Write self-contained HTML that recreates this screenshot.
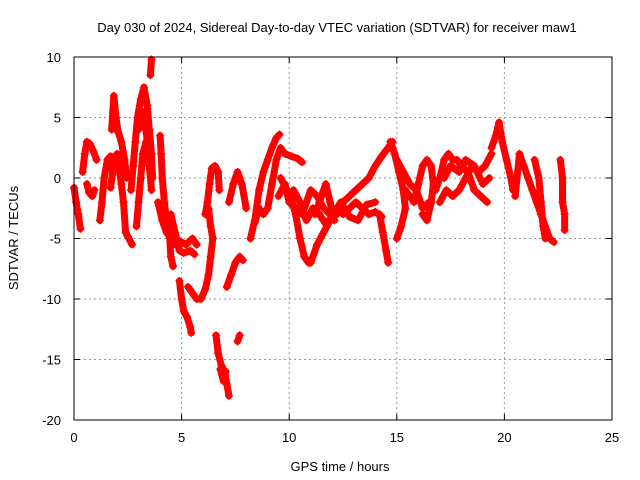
<!DOCTYPE html>
<html><head><meta charset="utf-8"><style>
body{margin:0;background:#fff}
svg{display:block;font-family:"Liberation Sans",Arial,sans-serif}
</style></head><body>
<svg id="chart" width="640" height="480">
<text x="337" y="32" font-size="13" text-anchor="middle">Day 030 of 2024, Sidereal Day-to-day VTEC variation (SDTVAR) for receiver maw1</text>
<text x="340" y="471" font-size="13" text-anchor="middle">GPS time / hours</text>
<text x="18" y="238" font-size="13" text-anchor="middle" transform="rotate(-90 18 238)">SDTVAR / TECUs</text>
<g id="grid"></g>
<g id="marks"></g>
<rect x="74" y="57" width="538" height="363" fill="none" stroke="#000" stroke-width="1"/>
<g id="ticks"></g>
</svg>
<script>
const xTicks=[0,5,10,15,20,25];
const yTicks=[10,5,0,-5,-10,-15,-20];
const tracks=[
[[0,-0.8],[0.1,-2],[0.2,-3],[0.3,-4.2]],
[[0.4,0.5],[0.5,2],[0.6,3],[0.75,2.8],[0.9,2.2],[1.05,1.5]],
[[0.6,-0.5],[0.7,-1.2],[0.85,-1.5],[0.95,-1]],
[[1.2,-3.5],[1.3,-2],[1.4,0],[1.55,1.5],[1.7,1.8],[1.8,0.5],[1.7,-0.8]],
[[1.75,4],[1.85,6.8],[1.95,5],[2.05,3.8],[2.2,3],[2.35,1.5],[2.45,0]],
[[2.0,2],[2.2,-0.5],[2.3,-2],[2.4,-4.5],[2.55,-5],[2.7,-5.5]],
[[2.65,-1],[2.75,1],[2.85,3],[2.95,5],[3.1,6.5],[3.25,7.5],[3.4,6],[3.5,4],[3.6,2],[3.65,0]],
[[2.9,-4],[3.0,-2],[3.1,0],[3.2,2],[3.35,3],[3.5,1],[3.6,-1]],
[[3.0,4],[3.15,5.5],[3.3,4.5],[3.45,2.5]],
[[3.55,8.5],[3.6,9.8]],
[[4.0,3.5],[4.05,2],[4.1,0],[4.2,-2],[4.3,-3.5],[4.45,-5],[4.5,-6.5],[4.6,-7.3]],
[[3.9,-2],[4.1,-3.5],[4.3,-4.5],[4.5,-5],[4.7,-5.5],[4.9,-5.2],[5.2,-5.5],[5.5,-5],[5.7,-5.5]],
[[4.5,-3],[4.7,-4.5],[4.9,-6],[5.1,-6.2],[5.4,-6],[5.6,-6.3]],
[[4.9,-8.5],[5.0,-10],[5.1,-11],[5.25,-11.5],[5.4,-12.3],[5.45,-12.8]],
[[5.3,-9],[5.5,-9.5],[5.7,-10],[5.9,-10],[6.1,-9.2],[6.25,-8],[6.35,-6.5],[6.45,-5]],
[[6.1,-3],[6.2,-2],[6.3,-0.5],[6.4,0.8],[6.55,1],[6.7,0.5],[6.75,-1]],
[[6.25,-2.5],[6.35,-4],[6.45,-5]],
[[6.6,-13],[6.7,-14.5],[6.85,-15.5],[7.0,-16],[7.1,-17],[7.2,-18]],
[[6.8,-15.8],[6.95,-16.8],[7.05,-16]],
[[7.1,-9],[7.3,-8],[7.5,-7],[7.7,-6.5],[7.85,-6.8]],
[[7.2,-2],[7.4,-0.5],[7.6,0.5],[7.8,-0.5],[8.0,-2.5]],
[[7.6,-13.5],[7.7,-13]],
[[8.2,-5],[8.4,-3.5],[8.6,-1],[8.8,0.5],[9.0,1.5],[9.2,2.5],[9.4,3.3],[9.55,3.6]],
[[8.4,-3.7],[8.6,-2.5],[8.8,-3],[9.0,-2.5],[9.2,-0.5],[9.4,1.5],[9.6,2.5],[9.8,2],[10.1,1.8],[10.4,1.6],[10.6,1.3]],
[[9.6,0],[9.9,-1],[10.1,-1.8],[10.3,-3],[10.5,-5],[10.7,-6.5],[10.9,-7]],
[[9.5,-1.5],[9.8,-0.5],[10.0,-2],[10.3,-2.5],[10.6,-3],[10.8,-2],[11.0,-1],[11.3,-1.5],[11.6,-2.5],[11.9,-3],[12.2,-2.5],[12.5,-3],[12.8,-2.5],[13.1,-2],[13.4,-2.5],[13.7,-3],[14.0,-2.8],[14.3,-3.2]],
[[10.2,-1],[10.5,-2],[10.8,-3.5],[11.1,-2.5],[11.4,-3],[11.7,-3.8],[12.0,-3.2],[12.4,-2],[12.8,-3.2],[13.2,-3.5],[13.6,-2.2],[14.0,-2]],
[[11.0,-7],[11.3,-5.5],[11.6,-4.5],[11.9,-3.5],[12.2,-3],[12.5,-2],[12.8,-1.5],[13.1,-1],[13.4,-0.5],[13.7,0],[14.0,1],[14.3,1.8],[14.6,2.5],[14.8,3]],
[[11.2,-3],[11.4,-2],[11.6,-1],[11.7,-0.5],[11.9,-2],[12.1,-3.5]],
[[14.2,-3],[14.35,-4.5],[14.5,-6],[14.6,-7]],
[[14.7,3],[14.9,2],[15.1,0.5],[15.3,-1],[15.4,-2.5],[15.2,-4],[15.0,-5]],
[[15.4,-1],[15.6,-1.5],[15.8,-2],[16.0,-0.5],[16.2,1],[16.4,1.5],[16.6,1],[16.7,-0.5],[16.6,-2],[16.4,-3.5],[16.2,-3]],
[[15.0,1.5],[15.3,0.5],[15.6,-0.5],[15.9,-1],[16.2,-2.5],[16.5,-2]],
[[16.8,-1],[17.0,0],[17.2,1.5],[17.4,2],[17.6,1.5],[17.8,1.5],[18.0,1],[18.3,0.5],[18.6,-1],[18.9,-1.5],[19.2,-2]],
[[17.0,-2],[17.3,-1],[17.6,-1.5],[17.9,-1],[18.2,0],[18.5,1],[18.8,0.5],[19.1,1],[19.4,2]],
[[17.2,0],[17.5,1],[17.9,0.5],[18.2,1.5],[18.6,1],[19.0,-0.5],[19.3,0]],
[[19.4,2.5],[19.6,3.5],[19.75,4.6],[19.9,3],[20.1,1.5],[20.3,0],[20.4,-1]],
[[20.5,-1.5],[20.7,2],[20.9,1],[21.1,0],[21.3,-1],[21.5,-2],[21.7,-3],[21.9,-4],[22.1,-5],[22.3,-5.3]],
[[21.4,1.5],[21.6,0],[21.7,-2],[21.8,-4],[21.9,-5]],
[[22.6,1.5],[22.7,0],[22.7,-2],[22.8,-3],[22.8,-4.3]]
];
const X0=74,X1=612,Y0=420,Y1=57,xmin=0,xmax=25,ymin=-20,ymax=10;
const sx=t=>X0+(t-xmin)/(xmax-xmin)*(X1-X0);
const sy=v=>Y0-(v-ymin)/(ymax-ymin)*(Y0-Y1);
const NS='http://www.w3.org/2000/svg';
function mk(tag,attrs,parent){const e=document.createElementNS(NS,tag);for(const k in attrs)e.setAttribute(k,attrs[k]);parent.appendChild(e);return e;}
const grid=document.getElementById('grid'),ticks=document.getElementById('ticks'),marks=document.getElementById('marks');
xTicks.forEach(t=>{
  const x=sx(t);
  if(t>xmin&&t<xmax){const l=mk('line',{x1:x,x2:x,y1:Y1,y2:Y0,stroke:'#999','stroke-dasharray':'2,3'},grid);
  
  }
  mk('line',{x1:x,x2:x,y1:Y0,y2:Y0-6,stroke:'#000'},ticks);
  mk('line',{x1:x,x2:x,y1:Y1,y2:Y1+6,stroke:'#000'},ticks);
  const tx=mk('text',{x:x,y:442,'font-size':13,'text-anchor':'middle'},ticks);
  tx.textContent=t;
  
  
});
yTicks.forEach(v=>{
  const y=sy(v);
  if(v>ymin&&v<ymax){const l=mk('line',{x1:X0,x2:X1,y1:y,y2:y,stroke:'#999','stroke-dasharray':'2,3'},grid);
  
  }
  mk('line',{x1:X0,x2:X0+6,y1:y,y2:y,stroke:'#000'},ticks);
  mk('line',{x1:X1,x2:X1-6,y1:y,y2:y,stroke:'#000'},ticks);
  const tx=mk('text',{x:61,y:y+5,'font-size':13,'text-anchor':'end'},ticks);
  tx.textContent=v;
  
  
});
tracks.forEach((tr,i)=>{
  const pl=mk('polyline',{points:tr.map(p=>sx(p[0])+','+sy(p[1])).join(' '),fill:'none',stroke:'#f00','stroke-width':7,'stroke-linejoin':'round','stroke-linecap':'round'},marks);
  
  
  tr.forEach(p=>{
    const x=sx(p[0]),y=sy(p[1]);
    const m=mk('path',{d:`M${x-4},${y}h8M${x},${y-4}v8`,stroke:'#f00','stroke-width':1.3},marks);
    
    
  });
});
</script>
</body></html>
